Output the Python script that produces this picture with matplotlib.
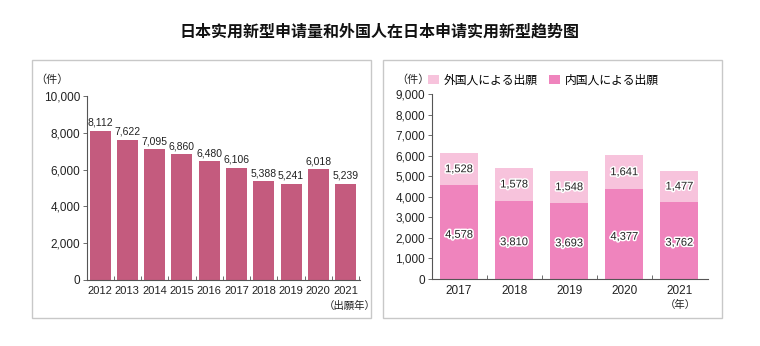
import matplotlib

matplotlib.use("Agg")

import matplotlib.pyplot as plt
import matplotlib.patheffects as pe
from matplotlib.patches import Rectangle, Patch

plt.rcParams["font.family"] = ["Liberation Sans", "Noto Sans CJK JP", "DejaVu Sans"]
JP = ["Noto Sans CJK JP", "DejaVu Sans"]

TITLE = "日本实用新型申请量和外国人在日本申请实用新型趋势图"

# left panel: all utility model applications
years_all = ["2012", "2013", "2014", "2015", "2016", "2017", "2018", "2019", "2020", "2021"]
counts_all = [8112, 7622, 7095, 6860, 6480, 6106, 5388, 5241, 6018, 5239]

# right panel: domestic vs foreign applicants
years_split = ["2017", "2018", "2019", "2020", "2021"]
domestic = [4578, 3810, 3693, 4377, 3762]
foreign = [1528, 1578, 1548, 1641, 1477]
legend_labels = ["外国人による出願", "内国人による出願"]

LEFT_COLOR = "#c45b7e"
DOM_COLOR = "#ef84bd"
FOR_COLOR = "#f7c3dc"
AXIS_COLOR = "#555555"
TEXT_COLOR = "#222222"

W, H = 760, 346


def fx(px):
    return px / W


def fy(py):
    return 1 - py / H


def style_axis(ax, xsize):
    for side in ["top", "right"]:
        ax.spines[side].set_visible(False)
    for side in ["left", "bottom"]:
        ax.spines[side].set_color(AXIS_COLOR)
        ax.spines[side].set_linewidth(0.8)
    ax.tick_params(axis="y", length=3, width=0.6, color=AXIS_COLOR,
                   labelsize=8.5, labelcolor=TEXT_COLOR, pad=2)
    ax.tick_params(axis="x", length=0, labelsize=xsize, labelcolor=TEXT_COLOR, pad=4)


fig = plt.figure(figsize=(7.6, 3.46), dpi=100)
fig.patch.set_facecolor("white")

fig.text(0.5, fy(32), TITLE, ha="center", va="center", fontsize=11.5,
         fontweight="bold", color="#111111", family=["Noto Sans CJK SC", "DejaVu Sans"])

# panel frames
for x0, x1 in [(32, 371), (383, 722)]:
    fig.patches.append(Rectangle((fx(x0), fy(318)), fx(x1) - fx(x0), fy(60) - fy(318),
                                 transform=fig.transFigure, fill=False,
                                 edgecolor="#c8c8c8", linewidth=1.0))

# left chart
ax1 = fig.add_axes([fx(87), fy(280), fx(360) - fx(87), fy(96) - fy(280)])
x1 = list(range(len(years_all)))
ax1.bar(x1, counts_all, width=0.77, color=LEFT_COLOR)
for xi, v in zip(x1, counts_all):
    ax1.text(xi, v + 150, f"{v:,}", ha="center", va="bottom", fontsize=7.5, color=TEXT_COLOR)
ax1.set_xlim(-0.48, 9.53)
ax1.set_ylim(0, 10000)
ax1.set_yticks(range(0, 10001, 2000))
ax1.set_yticklabels([f"{v:,}" for v in range(0, 10001, 2000)])
ax1.set_xticks(x1)
ax1.set_xticklabels(years_all)
ax1.set_xticks([i + 0.5 for i in x1], minor=True)
ax1.tick_params(axis="x", which="minor", direction="in", length=3, color=AXIS_COLOR)
style_axis(ax1, 8)
fig.text(fx(52), fy(80), "（件）", ha="center", va="center", fontsize=8,
         color=TEXT_COLOR, family=JP)
fig.text(fx(350), fy(306), "（出願年）", ha="center", va="center", fontsize=7.5,
         color=TEXT_COLOR, family=JP)

# right chart
ax2 = fig.add_axes([fx(432), fy(279), fx(708) - fx(432), fy(94) - fy(279)])
x2 = list(range(len(years_split)))
ax2.bar(x2, domestic, width=0.69, color=DOM_COLOR)
ax2.bar(x2, foreign, width=0.69, bottom=domestic, color=FOR_COLOR)
stroke = [pe.withStroke(linewidth=2.2, foreground="white")]
for xi, d, f in zip(x2, domestic, foreign):
    ax2.text(xi, d * 0.47, f"{d:,}", ha="center", va="center", fontsize=8,
             color=TEXT_COLOR, path_effects=stroke)
    ax2.text(xi, d + f * 0.5, f"{f:,}", ha="center", va="center", fontsize=8,
             color=TEXT_COLOR, path_effects=stroke)
ax2.set_xlim(-0.49, 4.52)
ax2.set_ylim(0, 9000)
ax2.set_yticks(range(0, 9001, 1000))
ax2.set_yticklabels([f"{v:,}" for v in range(0, 9001, 1000)])
ax2.set_xticks(x2)
ax2.set_xticklabels(years_split)
ax2.set_xticks([i + 0.5 for i in x2[:-1]], minor=True)
ax2.tick_params(axis="x", which="minor", direction="in", length=3, color=AXIS_COLOR)
style_axis(ax2, 8.5)
fig.text(fx(413), fy(80), "（件）", ha="center", va="center", fontsize=8,
         color=TEXT_COLOR, family=JP)
fig.text(fx(680), fy(305), "（年）", ha="center", va="center", fontsize=7.5,
         color=TEXT_COLOR, family=JP)

handles = [Patch(facecolor=FOR_COLOR, edgecolor="none"),
           Patch(facecolor=DOM_COLOR, edgecolor="none")]
fig.legend(handles, legend_labels, ncol=2, loc="center left",
           bbox_to_anchor=(fx(428), fy(80)), frameon=False,
           prop={"family": JP, "size": 8.5},
           handlelength=0.9, handleheight=0.9, handletextpad=0.4,
           columnspacing=1.0, borderaxespad=0, borderpad=0)

fig.savefig("out.png", dpi=100, facecolor="white")
